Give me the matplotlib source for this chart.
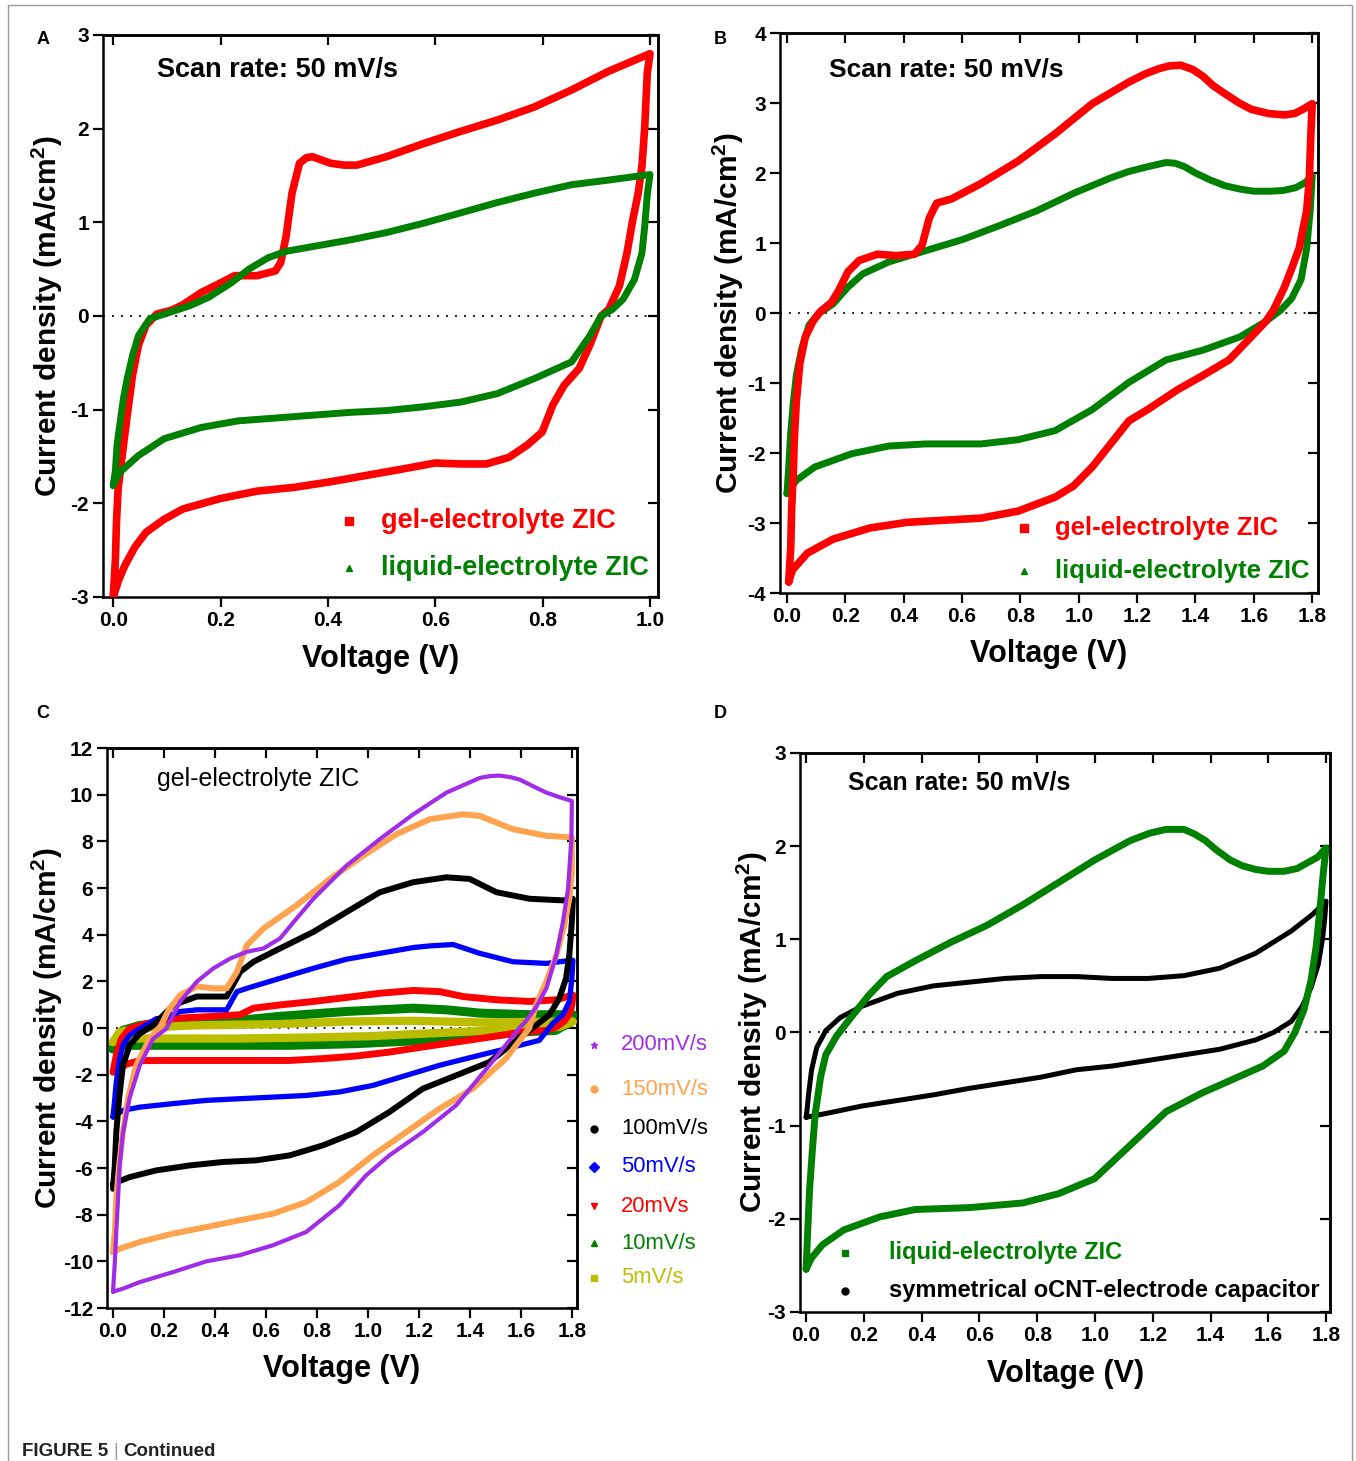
import matplotlib
matplotlib.use('Agg')
import matplotlib.pyplot as plt
from matplotlib.patches import Rectangle

plt.rcParams['font.family'] = ['Liberation Sans', 'DejaVu Sans']
plt.rcParams['axes.unicode_minus'] = False
plt.rcParams['mathtext.fontset'] = 'custom'
plt.rcParams['mathtext.rm'] = 'Liberation Sans'
plt.rcParams['mathtext.bf'] = 'Liberation Sans:bold'

# ---------------- data (voltage V, current density mA/cm2), full CV loops ----------------
# Panel A: scan rate 50 mV/s, window 0-1.0 V
a_gel_v = [0.0, 0.004, 0.006, 0.009, 0.016, 0.026, 0.036, 0.047, 0.061, 0.081, 0.108, 0.13, 0.164, 0.199,
           0.226, 0.268, 0.302, 0.312, 0.322, 0.333, 0.347, 0.36, 0.371, 0.39, 0.405, 0.43, 0.454, 0.509,
           0.578, 0.647, 0.715, 0.784, 0.853, 0.922, 1.0,
           0.995, 0.99, 0.985, 0.978, 0.968, 0.957, 0.943, 0.923, 0.909, 0.888, 0.868, 0.84, 0.819, 0.799,
           0.771, 0.737, 0.695, 0.647, 0.599, 0.543, 0.474, 0.405, 0.337, 0.268, 0.199, 0.13, 0.095, 0.061,
           0.04, 0.022, 0.01, 0.0]
a_gel_i = [-3.0, -2.6, -2.2, -1.85, -1.52, -1.06, -0.63, -0.31, -0.1, 0.02, 0.06, 0.12, 0.25, 0.35,
           0.43, 0.43, 0.48, 0.57, 0.85, 1.31, 1.63, 1.69, 1.70, 1.66, 1.63, 1.61, 1.61, 1.70,
           1.84, 1.97, 2.09, 2.23, 2.41, 2.61, 2.80,
           2.6, 2.0, 1.6, 1.31, 1.03, 0.67, 0.32, 0.07, 0.0, -0.31, -0.56, -0.74, -0.95, -1.24,
           -1.38, -1.51, -1.58, -1.58, -1.57, -1.63, -1.70, -1.77, -1.83, -1.87, -1.95, -2.06, -2.17, -2.31,
           -2.47, -2.66, -2.82, -3.0]
a_liq_v = [0.0, 0.004, 0.007, 0.012, 0.019, 0.026, 0.036, 0.047, 0.068, 0.095, 0.143, 0.178, 0.219, 0.253,
           0.288, 0.322, 0.371, 0.44, 0.509, 0.578, 0.647, 0.715, 0.784, 0.853, 0.922, 1.0,
           0.995, 0.99, 0.985, 0.971, 0.95, 0.93, 0.909, 0.888, 0.854, 0.819, 0.784, 0.715, 0.647, 0.578,
           0.509, 0.44, 0.371, 0.302, 0.233, 0.164, 0.095, 0.047, 0.012, 0.0]
a_liq_i = [-1.81, -1.65, -1.38, -1.17, -0.88, -0.67, -0.42, -0.21, -0.03, 0.02, 0.11, 0.2, 0.35, 0.5,
           0.62, 0.69, 0.74, 0.81, 0.89, 0.99, 1.10, 1.21, 1.31, 1.40, 1.45, 1.51,
           1.3, 0.95, 0.67, 0.39, 0.18, 0.07, 0.0, -0.21, -0.49, -0.58, -0.67, -0.83, -0.92, -0.97,
           -1.01, -1.03, -1.06, -1.09, -1.12, -1.19, -1.31, -1.49, -1.67, -1.81]

# Panel B: scan rate 50 mV/s, window 0-1.8 V
b_gel_v = [0.006, 0.013, 0.016, 0.022, 0.025, 0.032, 0.044, 0.063, 0.089, 0.114, 0.152, 0.177, 0.209, 0.247,
           0.31, 0.374, 0.437, 0.463, 0.488, 0.513, 0.564, 0.665, 0.792, 0.919, 1.046, 1.172, 1.23, 1.274,
           1.31, 1.35, 1.39, 1.426, 1.46, 1.502, 1.55, 1.591, 1.65, 1.705, 1.74, 1.768, 1.8,
           1.795, 1.79, 1.781, 1.755, 1.73, 1.705, 1.667, 1.641, 1.591, 1.515, 1.426, 1.337, 1.236, 1.172,
           1.109, 1.046, 0.982, 0.919, 0.792, 0.665, 0.539, 0.412, 0.285, 0.158, 0.07, 0.019, 0.006]
b_gel_i = [-3.84, -3.34, -2.8, -2.25, -1.81, -1.27, -0.72, -0.34, -0.12, 0.02, 0.15, 0.32, 0.59, 0.75,
           0.84, 0.82, 0.84, 0.97, 1.36, 1.57, 1.63, 1.85, 2.17, 2.56, 2.99, 3.30, 3.42, 3.49,
           3.53, 3.54, 3.48, 3.38, 3.25, 3.13, 3.0, 2.91, 2.85, 2.83, 2.85, 2.91, 2.99,
           2.5, 1.9, 1.46, 0.92, 0.64, 0.37, 0.04, -0.12, -0.34, -0.67, -0.89, -1.10, -1.38, -1.54,
           -1.87, -2.20, -2.47, -2.63, -2.83, -2.93, -2.96, -2.99, -3.07, -3.23, -3.43, -3.67, -3.84]
b_liq_v = [0.0, 0.006, 0.013, 0.022, 0.032, 0.051, 0.076, 0.108, 0.158, 0.209, 0.26, 0.349, 0.475, 0.602,
           0.729, 0.856, 0.982, 1.109, 1.17, 1.236, 1.299, 1.33, 1.363, 1.40, 1.451, 1.5, 1.553, 1.6,
           1.654, 1.70, 1.743, 1.775, 1.8,
           1.793, 1.781, 1.762, 1.73, 1.692, 1.641, 1.553, 1.426, 1.299, 1.172, 1.046, 0.919, 0.792, 0.665,
           0.475, 0.349, 0.222, 0.095, 0.032, 0.0]
b_liq_i = [-2.58, -2.2, -1.70, -1.27, -0.89, -0.50, -0.17, -0.01, 0.13, 0.37, 0.56, 0.73, 0.89, 1.05,
           1.25, 1.46, 1.71, 1.93, 2.02, 2.09, 2.15, 2.14, 2.09, 2.0, 1.90, 1.82, 1.77, 1.74,
           1.74, 1.75, 1.79, 1.86, 1.96,
           1.46, 0.92, 0.48, 0.21, 0.04, -0.12, -0.34, -0.53, -0.67, -0.99, -1.38, -1.68, -1.81, -1.87,
           -1.87, -1.90, -2.01, -2.20, -2.39, -2.58]

# Panel C: gel-electrolyte ZIC at several scan rates
c_labels = ['200mV/s', '150mV/s', '100mV/s', '50mV/s', '20mVs', '10mV/s', '5mV/s']
c200_v = [0.0, 0.007, 0.013, 0.02, 0.026, 0.039, 0.065, 0.105, 0.157, 0.209, 0.264, 0.329, 0.394, 0.46,
          0.525, 0.59, 0.655, 0.72, 0.786, 0.916, 1.047, 1.178, 1.308, 1.439, 1.48, 1.517, 1.56, 1.595,
          1.65, 1.70, 1.75, 1.8,
          1.798, 1.785, 1.765, 1.739, 1.70, 1.66, 1.62, 1.594, 1.55, 1.476, 1.346, 1.215, 1.084, 0.993,
          0.888, 0.758, 0.627, 0.496, 0.366, 0.235, 0.105, 0.039, 0.0]
c200_i = [-11.3, -10.1, -8.7, -7.3, -5.9, -4.5, -3.0, -1.6, -0.46, -0.03, 1.14, 1.99, 2.56, 2.98,
          3.27, 3.41, 3.84, 4.69, 5.54, 6.96, 8.10, 9.16, 10.09, 10.72, 10.8, 10.82, 10.75, 10.65,
          10.35, 10.09, 9.9, 9.73,
          8.1, 5.97, 4.55, 3.13, 1.7, 0.9, 0.3, 0.0, -0.6, -1.6, -3.31, -4.46, -5.46, -6.31,
          -7.6, -8.74, -9.31, -9.74, -10.0, -10.46, -10.89, -11.17, -11.3]
c150_v = [0.0, 0.007, 0.013, 0.024, 0.039, 0.059, 0.091, 0.144, 0.183, 0.22, 0.264, 0.329, 0.394, 0.446,
          0.486, 0.525, 0.59, 0.72, 0.851, 0.982, 1.112, 1.243, 1.373, 1.439, 1.569, 1.70, 1.8,
          1.8, 1.79, 1.77, 1.739, 1.70, 1.66, 1.633, 1.541, 1.411, 1.28, 1.15, 1.019, 0.888, 0.758,
          0.627, 0.496, 0.366, 0.235, 0.105, 0.026, 0.0]
c150_i = [-9.6, -8.74, -7.31, -5.89, -4.46, -3.03, -1.6, -0.46, 0.0, 0.8, 1.42, 1.78, 1.70, 1.70,
          2.41, 3.55, 4.26, 5.26, 6.39, 7.39, 8.31, 8.95, 9.16, 9.09, 8.52, 8.24, 8.17,
          6.68, 5.54, 4.40, 3.13, 1.99, 1.0, 0.0, -1.31, -2.6, -3.46, -4.46, -5.46, -6.6, -7.46,
          -7.96, -8.24, -8.53, -8.81, -9.17, -9.46, -9.6]
c100_v = [0.0, 0.007, 0.013, 0.024, 0.039, 0.065, 0.105, 0.157, 0.238, 0.329, 0.446, 0.499, 0.551, 0.655,
          0.786, 0.916, 1.047, 1.178, 1.308, 1.399, 1.504, 1.634, 1.765, 1.804,
          1.80, 1.79, 1.777, 1.751, 1.712, 1.646, 1.607, 1.476, 1.346, 1.215, 1.084, 0.954, 0.823, 0.692,
          0.562, 0.431, 0.30, 0.17, 0.065, 0.0]
c100_i = [-6.89, -5.89, -4.46, -3.03, -1.6, -0.74, -0.24, 0.11, 0.99, 1.35, 1.35, 2.41, 2.84, 3.41,
          4.12, 4.97, 5.82, 6.25, 6.46, 6.39, 5.82, 5.54, 5.47, 5.54,
          4.55, 3.13, 2.13, 1.28, 0.57, 0.0, -0.31, -1.46, -2.03, -2.6, -3.6, -4.46, -5.03, -5.46,
          -5.67, -5.74, -5.89, -6.1, -6.39, -6.67]
c50_v = [0.0, 0.007, 0.013, 0.026, 0.039, 0.065, 0.105, 0.17, 0.198, 0.264, 0.329, 0.446, 0.486, 0.525,
         0.655, 0.786, 0.916, 1.047, 1.178, 1.243, 1.334, 1.439, 1.569, 1.70, 1.804,
         1.80, 1.79, 1.765, 1.726, 1.672, 1.541, 1.411, 1.28, 1.15, 1.019, 0.888, 0.758, 0.627, 0.496,
         0.366, 0.235, 0.105, 0.039, 0.0]
c50_i = [-3.81, -3.03, -2.31, -1.31, -0.74, -0.31, -0.03, 0.4, 0.43, 0.71, 0.78, 0.78, 1.56, 1.70,
         2.13, 2.56, 2.95, 3.2, 3.45, 3.52, 3.58, 3.2, 2.84, 2.77, 2.91,
         2.13, 1.14, 0.57, 0.21, -0.53, -0.89, -1.24, -1.6, -2.03, -2.46, -2.74, -2.89, -2.96, -3.03,
         -3.1, -3.24, -3.39, -3.53, -3.81]
c20_v = [0.0, 0.013, 0.033, 0.065, 0.131, 0.235, 0.264, 0.394, 0.499, 0.551, 0.655, 0.786, 0.916, 1.047,
         1.178, 1.282, 1.373, 1.504, 1.634, 1.739, 1.804,
         1.80, 1.79, 1.77, 1.74, 1.70, 1.607, 1.476, 1.346, 1.215, 1.084, 0.954, 0.823, 0.692, 0.562,
         0.431, 0.30, 0.17, 0.105, 0.052, 0.007]
c20_i = [-1.89, -1.17, -0.46, -0.03, 0.19, 0.4, 0.43, 0.50, 0.57, 0.85, 0.99, 1.14, 1.31, 1.49,
         1.61, 1.56, 1.35, 1.21, 1.14, 1.21, 1.42,
         1.0, 0.6, 0.3, 0.05, -0.1, -0.17, -0.39, -0.6, -0.81, -1.03, -1.2, -1.31, -1.39, -1.39,
         -1.39, -1.39, -1.39, -1.4, -1.55, -1.89]
c10_v = [0.0, 0.013, 0.039, 0.105, 0.235, 0.394, 0.525, 0.655, 0.916, 1.178, 1.308, 1.439, 1.634, 1.804,
         1.79, 1.76, 1.737, 1.6, 1.476, 1.215, 0.954, 0.692, 0.431, 0.17, 0.039, 0.0]
c10_i = [-0.89, -0.46, -0.1, 0.11, 0.26, 0.28, 0.36, 0.5, 0.71, 0.85, 0.78, 0.64, 0.57, 0.57,
         0.2, 0.05, -0.1, -0.17, -0.31, -0.53, -0.67, -0.74, -0.74, -0.74, -0.74, -0.89]
c5_v = [0.0, 0.026, 0.105, 0.30, 0.655, 0.916, 1.178, 1.439, 1.804,
        1.75, 1.6, 1.4, 1.2, 1.0, 0.8, 0.5, 0.2, 0.05, 0.0]
c5_i = [-0.6, -0.17, 0.0, 0.11, 0.17, 0.28, 0.31, 0.24, 0.28,
        0.05, -0.05, -0.15, -0.25, -0.35, -0.4, -0.45, -0.45, -0.45, -0.6]

# Panel D: liquid ZIC vs symmetrical oCNT capacitor, 50 mV/s
d_liq_v = [0.0, 0.006, 0.012, 0.021, 0.031, 0.05, 0.068, 0.105, 0.155, 0.217, 0.279, 0.378, 0.502, 0.626,
           0.75, 0.874, 0.998, 1.122, 1.19, 1.246, 1.308, 1.345, 1.382, 1.42, 1.469, 1.51, 1.556, 1.6,
           1.655, 1.7, 1.729, 1.77, 1.8,
           1.791, 1.779, 1.766, 1.748, 1.723, 1.692, 1.655, 1.581, 1.494, 1.37, 1.246, 1.122, 0.998, 0.874,
           0.75, 0.564, 0.378, 0.254, 0.13, 0.056, 0.019, 0.0]
d_liq_i = [-2.54, -2.10, -1.69, -1.29, -0.89, -0.48, -0.24, -0.04, 0.16, 0.40, 0.60, 0.77, 0.97, 1.15,
           1.37, 1.61, 1.85, 2.06, 2.14, 2.18, 2.18, 2.13, 2.06, 1.96, 1.85, 1.79, 1.75, 1.73,
           1.73, 1.76, 1.81, 1.88, 1.98,
           1.73, 1.33, 0.93, 0.56, 0.24, 0.0, -0.20, -0.36, -0.48, -0.65, -0.85, -1.21, -1.57, -1.73,
           -1.83, -1.88, -1.90, -1.98, -2.12, -2.28, -2.42, -2.54]
d_sym_v = [0.0, 0.004, 0.009, 0.019, 0.037, 0.068, 0.118, 0.192, 0.316, 0.44, 0.564, 0.688, 0.812, 0.936,
           1.06, 1.184, 1.308, 1.432, 1.556, 1.68, 1.754, 1.8,
           1.795, 1.788, 1.773, 1.748, 1.717, 1.68, 1.618, 1.556, 1.432, 1.308, 1.184, 1.06, 0.936, 0.812,
           0.688, 0.564, 0.44, 0.316, 0.192, 0.068, 0.0]
d_sym_i = [-0.91, -0.81, -0.65, -0.40, -0.16, 0.02, 0.16, 0.28, 0.42, 0.50, 0.54, 0.58, 0.60, 0.60,
           0.58, 0.58, 0.61, 0.69, 0.85, 1.09, 1.27, 1.41,
           1.21, 1.01, 0.73, 0.48, 0.28, 0.12, 0.0, -0.08, -0.18, -0.24, -0.30, -0.36, -0.40, -0.48,
           -0.54, -0.60, -0.67, -0.73, -0.79, -0.87, -0.91]

RED = '#ff0000'
GREEN = '#008000'
C_COLORS = ['#a02ce8', '#ffa34f', '#000000', '#0000ff', '#ff0000', '#008000', '#bdbd00']
C_MARKERS = ['*', 'o', 'o', 'D', 'v', '^', 's']

YLABEL = r'Current density (mA/cm$^{\mathbf{2}}$)'


def style_axes(ax, xticks, yticks, xfmt, ylab_x, xlab_y):
    ax.set_xticks(xticks)
    ax.set_xticklabels([xfmt.format(t) for t in xticks])
    ax.set_yticks(yticks)
    ax.set_yticklabels([str(t) for t in yticks])
    for s in ax.spines.values():
        s.set_linewidth(1.8)
    ax.tick_params(direction='out', length=7, width=1.6, labelsize=15, pad=3)
    for lab in ax.get_xticklabels() + ax.get_yticklabels():
        lab.set_fontweight('bold')
    # mirrored inward ticks on top / right
    top = ax.secondary_xaxis('top')
    top.set_xticks(xticks)
    top.tick_params(direction='in', length=7, width=1.6, labeltop=False)
    top.spines['top'].set_linewidth(1.8)
    right = ax.secondary_yaxis('right')
    right.set_yticks(yticks)
    right.tick_params(direction='in', length=7, width=1.6, labelright=False)
    right.spines['right'].set_linewidth(1.8)
    ax.axhline(0, color='black', lw=1.3, ls=(0, (1, 4)), zorder=1)
    ax.set_xlabel('Voltage (V)', fontsize=22, fontweight='bold', va='center')
    ax.set_ylabel(YLABEL, fontsize=21.5, fontweight='bold', va='center')
    ax.xaxis.set_label_coords(0.5, xlab_y)
    ax.yaxis.set_label_coords(ylab_x, 0.5)


def legend_rows(ax, entries, mx, tx, ys, size, weight):
    for (label, color, marker, ms), y in zip(entries, ys):
        ax.plot([mx], [y], marker=marker, color=color, ms=ms, ls='none',
                transform=ax.transAxes, clip_on=False)
        ax.text(tx, y, label, color=color, fontsize=size, fontweight=weight,
                va='center', ha='left', transform=ax.transAxes)


fig = plt.figure(figsize=(13.56, 14.61), dpi=100)

# ---- Panel A ----
axA = fig.add_axes([0.0760, 0.5914, 0.4093, 0.3847])
axA.plot(a_gel_v, a_gel_i, color=RED, lw=5.5, solid_joinstyle='round', solid_capstyle='round', zorder=3)
axA.plot(a_liq_v, a_liq_i, color=GREEN, lw=5.0, solid_joinstyle='round', solid_capstyle='round', zorder=4)
axA.set_xlim(-0.019, 1.015)
axA.set_ylim(-3, 3)
style_axes(axA, [0.0, 0.2, 0.4, 0.6, 0.8, 1.0], [-3, -2, -1, 0, 1, 2, 3], '{:.1f}', -0.101, -0.110)
axA.text(0.097, 0.938, 'Scan rate: 50 mV/s', transform=axA.transAxes, fontsize=19.5,
         fontweight='bold', va='center')
legend_rows(axA, [('gel-electrolyte ZIC', RED, 's', 6), ('liquid-electrolyte ZIC', GREEN, '^', 5)],
            0.443, 0.501, [0.135, 0.052], 19.5, 'bold')

# ---- Panel B ----
axB = fig.add_axes([0.5752, 0.5941, 0.3968, 0.3833])
axB.plot(b_liq_v, b_liq_i, color=GREEN, lw=5.0, solid_joinstyle='round', solid_capstyle='round', zorder=3)
axB.plot(b_gel_v, b_gel_i, color=RED, lw=5.5, solid_joinstyle='round', solid_capstyle='round', zorder=4)
axB.set_xlim(-0.024, 1.82)
axB.set_ylim(-4, 4)
style_axes(axB, [0.0, 0.2, 0.4, 0.6, 0.8, 1.0, 1.2, 1.4, 1.6, 1.8], [-4, -3, -2, -1, 0, 1, 2, 3, 4],
           '{:.1f}', -0.097, -0.109)
axB.text(0.091, 0.934, 'Scan rate: 50 mV/s', transform=axB.transAxes, fontsize=19,
         fontweight='bold', va='center')
legend_rows(axB, [('gel-electrolyte ZIC', RED, 's', 6), ('liquid-electrolyte ZIC', GREEN, '^', 5)],
            0.4535, 0.511, [0.116, 0.039], 18.5, 'bold')

# ---- Panel C ----
axC = fig.add_axes([0.0789, 0.1047, 0.3466, 0.3833])
c_series = [(c200_v, c200_i, 3.0), (c150_v, c150_i, 4.3), (c100_v, c100_i, 4.3), (c50_v, c50_i, 3.8),
            (c20_v, c20_i, 5.0), (c10_v, c10_i, 6.5), (c5_v, c5_i, 6.0)]
c_order = [5, 6, 4, 3, 2, 1, 0]
for k, idx in enumerate(c_order):
    v, i, lw = c_series[idx]
    axC.plot(v, i, color=C_COLORS[idx], lw=lw, solid_joinstyle='round', solid_capstyle='round',
             zorder=3 + k)
axC.set_xlim(-0.0235, 1.82)
axC.set_ylim(-12, 12)
style_axes(axC, [0.0, 0.2, 0.4, 0.6, 0.8, 1.0, 1.2, 1.4, 1.6, 1.8], list(range(-12, 13, 2)),
           '{:.1f}', -0.128, -0.109)
axC.text(0.106, 0.945, 'gel-electrolyte ZIC', transform=axC.transAxes, fontsize=18, va='center')
legend_rows(axC, [(lab, col, mk, 5) for lab, col, mk in zip(c_labels, C_COLORS, C_MARKERS)],
            1.036, 1.094, [0.470, 0.391, 0.320, 0.252, 0.182, 0.116, 0.054], 15.8, 'normal')

# ---- Panel D ----
axD = fig.add_axes([0.5900, 0.1020, 0.3909, 0.3826])
axD.plot(d_sym_v, d_sym_i, color='black', lw=3.6, solid_joinstyle='round', solid_capstyle='round', zorder=3)
axD.plot(d_liq_v, d_liq_i, color=GREEN, lw=5.0, solid_joinstyle='round', solid_capstyle='round', zorder=4)
axD.set_xlim(-0.021, 1.814)
axD.set_ylim(-3, 3)
style_axes(axD, [0.0, 0.2, 0.4, 0.6, 0.8, 1.0, 1.2, 1.4, 1.6, 1.8], [-3, -2, -1, 0, 1, 2, 3],
           '{:.1f}', -0.091, -0.111)
axD.text(0.091, 0.948, 'Scan rate: 50 mV/s', transform=axD.transAxes, fontsize=18,
         fontweight='bold', va='center')
legend_rows(axD, [('liquid-electrolyte ZIC', GREEN, 's', 5),
                  ('symmetrical oCNT-electrode capacitor', 'black', 'o', 5)],
            0.085, 0.168, [0.106, 0.038], 17, 'bold')

# ---- panel letters, frame, caption ----
for letter, x, y in [('A', 43, 40), ('B', 720, 40), ('C', 43, 713), ('D', 720, 713)]:
    fig.text(x / 1356, 1 - y / 1461, letter, fontsize=13, fontweight='bold', ha='center', va='center')

fig.patches.append(Rectangle((8 / 1356, -0.01), (1352 - 8) / 1356, 1.01 - 5 / 1461,
                             transform=fig.transFigure, fill=False, edgecolor='#9a9a9a', lw=1.0))

fig.text(22 / 1356, 1 - 1452 / 1461, 'FIGURE 5', fontsize=13.5, fontweight='bold', color='#222222',
         va='center', ha='left')
fig.text(116 / 1356, 1 - 1452 / 1461, '|', fontsize=13.5, color='#999999', va='center', ha='center')
fig.text(123 / 1356, 1 - 1452 / 1461, 'Continued', fontsize=13.5, fontweight='bold', color='#222222',
         va='center', ha='left')

fig.savefig('out.png', dpi=100)
